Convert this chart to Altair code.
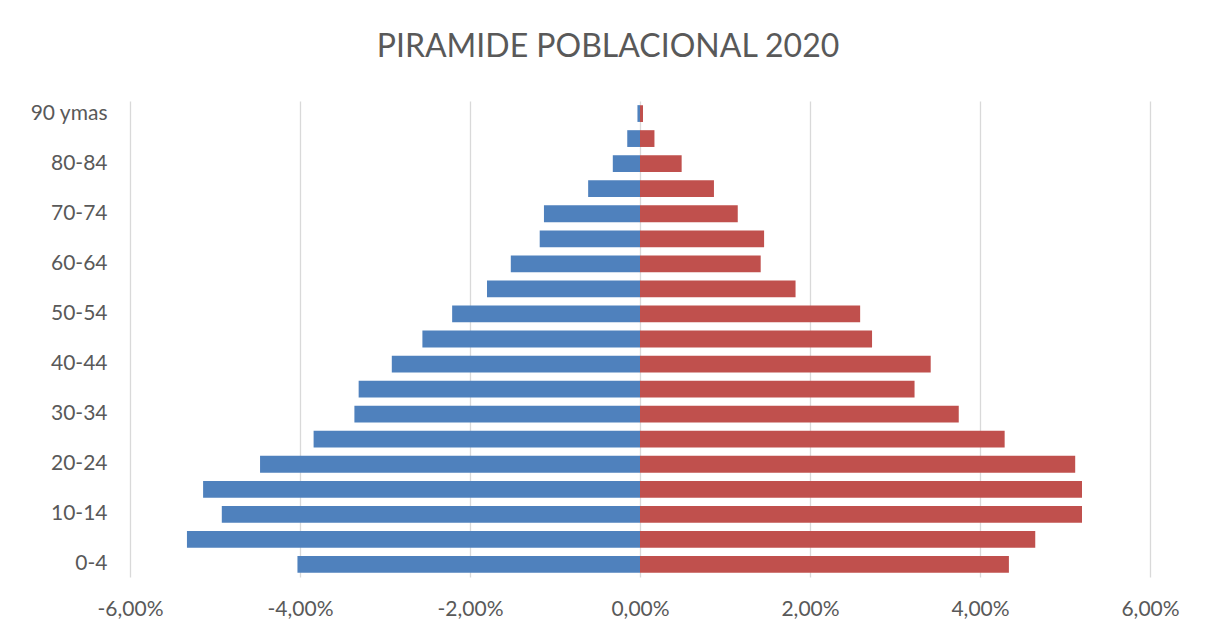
import altair as alt
import pandas as pd

ages = ["0-4", "5-9", "10-14", "15-19", "20-24", "25-29", "30-34", "35-39",
        "40-44", "45-49", "50-54", "55-59", "60-64", "65-69", "70-74",
        "75-79", "80-84", "85-89", "90 ymas"]
hombres = [-4.03, -5.33, -4.92, -5.14, -4.47, -3.84, -3.36, -3.31, -2.92,
           -2.56, -2.21, -1.80, -1.52, -1.18, -1.13, -0.61, -0.32, -0.15, -0.03]
mujeres = [4.34, 4.65, 5.20, 5.20, 5.12, 4.29, 3.75, 3.23, 3.42, 2.73,
           2.59, 1.83, 1.42, 1.46, 1.15, 0.87, 0.49, 0.17, 0.035]
x_ticks = [-6, -4, -2, 0, 2, 4, 6]
shown_labels = ages[::2]

rows = []
for a, h, m in zip(ages, hombres, mujeres):
    rows.append({"edad": a, "serie": "Hombres", "valor": h})
    rows.append({"edad": a, "serie": "Mujeres", "valor": m})
df = pd.DataFrame(rows)

FONT = "Lato"
GREY = "#595959"

chart = alt.Chart(df).mark_bar().encode(
    x=alt.X("valor:Q",
            scale=alt.Scale(domain=[-6, 6], nice=False, zero=False),
            axis=alt.Axis(values=x_ticks, title=None, domain=False, ticks=False,
                          grid=True, gridColor="#d9d9d9", gridWidth=1.3,
                          labelFlush=False, labelOverlap=False,
                          labelExpr="(datum.value < 0 ? '-' : '') + replace(format(abs(datum.value), '.2f'), '.', ',') + '%'",
                          labelFont=FONT, labelFontSize=21, labelColor=GREY,
                          labelPadding=21)),
    y=alt.Y("edad:N", sort=list(reversed(ages)),
            scale=alt.Scale(paddingInner=0.33, paddingOuter=0.165),
            axis=alt.Axis(values=shown_labels, title=None, domain=False, ticks=False,
                          labelOverlap=False,
                          labelFont=FONT, labelFontSize=21, labelColor=GREY,
                          labelPadding=23)),
    color=alt.Color("serie:N",
                    scale=alt.Scale(domain=["Hombres", "Mujeres"],
                                    range=["#4F81BD", "#C0504D"]),
                    legend=None),
).properties(
    width=1020,
    height=476,
    title=alt.TitleParams("PIRAMIDE POBLACIONAL 2020", font=FONT, fontSize=32,
                          fontWeight="normal", color=GREY, anchor="middle",
                          dx=-32, offset=37),
    autosize=alt.AutoSizeParams(type="none"),
    padding={"left": 122, "top": 93, "right": 40, "bottom": 51},
).configure_view(stroke=None)

chart.save("out.html", embed_options={"renderer": "svg", "actions": False})
